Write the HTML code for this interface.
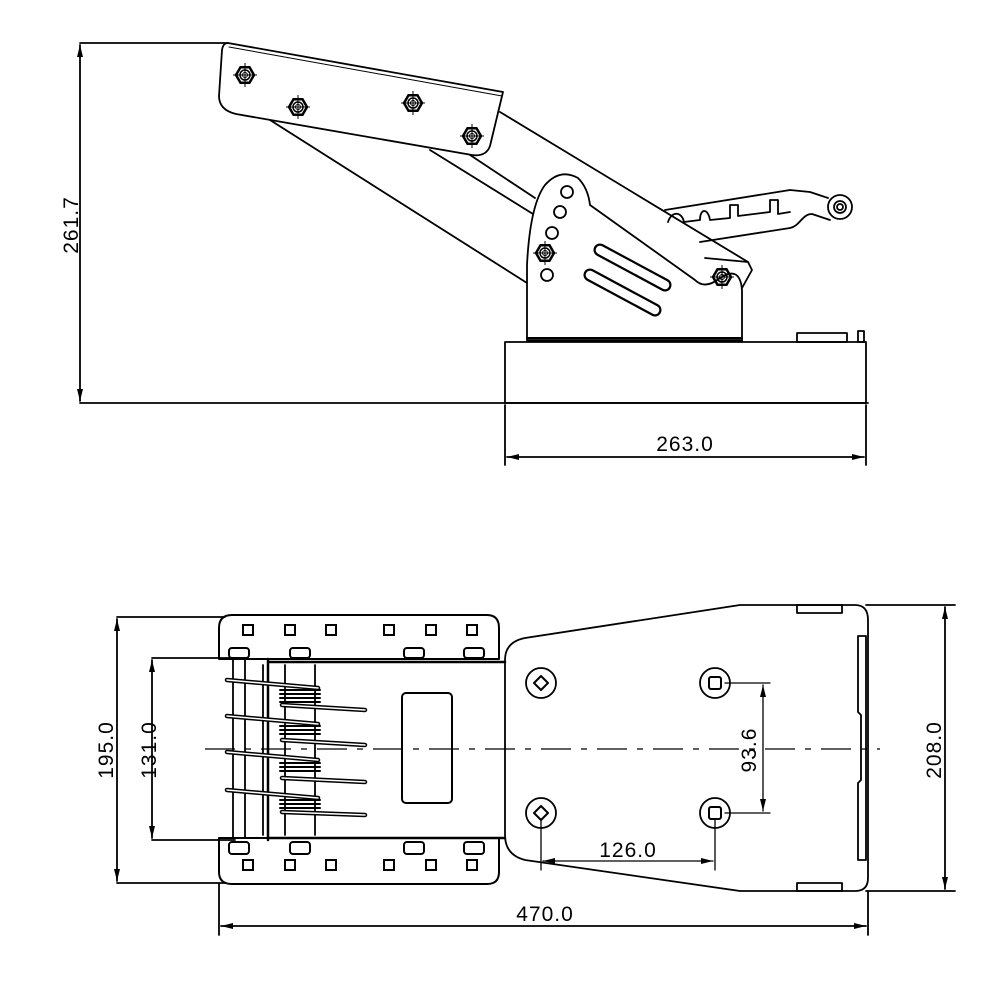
<!DOCTYPE html>
<html><head><meta charset="utf-8"><style>
html,body{margin:0;padding:0;background:#fff}
svg{display:block}
text{font-family:"Liberation Sans",sans-serif;font-size:21px;fill:#000;letter-spacing:1px}
</style></head><body>
<svg width="1000" height="1000" viewBox="0 0 1000 1000" xmlns="http://www.w3.org/2000/svg">
<defs>
<marker id="a" viewBox="0 0 12 6" refX="12" refY="3" markerWidth="12" markerHeight="6" orient="auto-start-reverse" markerUnits="userSpaceOnUse"><path d="M0,0 L12,3 L0,6 z" fill="#000"/></marker>
<g id="nut"><polygon points="9,0 4.5,7.8 -4.5,7.8 -9,0 -4.5,-7.8 4.5,-7.8" fill="none" stroke="#000" stroke-width="2.5"/><circle r="5" fill="none" stroke="#000" stroke-width="1.5"/><circle r="2.5" fill="none" stroke="#000" stroke-width="1"/><path d="M0,-12V12M-12,0H12" stroke="#000" stroke-width="1"/></g>
</defs>
<g fill="none" stroke="#000" stroke-width="1.8" stroke-linejoin="round" stroke-linecap="round">
<path d="M80,43H228M80,403H868"/>
<path d="M80,45V401" marker-start="url(#a)" marker-end="url(#a)"/>
<path d="M505,405V465M866,405V465"/>
<path d="M507,457H864" marker-start="url(#a)" marker-end="url(#a)"/>
<rect x="505" y="342" width="361" height="61"/>
<rect x="797" y="333" width="50" height="9"/>
<rect x="858" y="331" width="6" height="11"/>
<path d="M270,120 L527,283"/>
<path d="M500,112 L748,262"/>
<path d="M430,150 L533,214 M455,145 L535,198"/>
<path d="M665,210 L790,190 L810,192 L828,198 M668,222 C672,210 682,212 684,222 L700,220 C700,208 708,208 710,220 L730,218 L730,205 L738,205 L738,216 L770,212 L770,200 L778,200 L778,214 L790,212"/>
<path d="M700,242 L790,228 C800,226 802,214 812,214 L830,220"/>
<circle cx="840" cy="207" r="12"/><circle cx="840" cy="207" r="6"/><circle cx="840" cy="207" r="3"/>
<path d="M228,43 L503,92 L490,146 Q486,157 472,155 L236,114 Q219,110 219,96 L222,50 Q223,43 228,43 Z" fill="#fff"/>
<path d="M229,47 L502,96" stroke-width="1"/>
<path d="M527,340 L527,265 Q530,205 545,185 Q560,168 578,178 Q588,188 590,205 L695,280 Q705,290 720,278 Q740,265 742,290 L742,340 Z" fill="#fff"/>
<path d="M705,258 L748,262 L752,270 L742,288"/>
<path d="M527,338 H742 M527,341 H742" stroke-width="2"/>
<circle cx="567" cy="192" r="6"/><circle cx="560" cy="212" r="6"/><circle cx="552" cy="233" r="6"/><circle cx="547" cy="275" r="6"/>
<path d="M600,250 L665,285" stroke-width="13"/><path d="M600,250 L665,285" stroke="#fff" stroke-width="8.5"/>
<path d="M590,275 L655,310" stroke-width="13"/><path d="M590,275 L655,310" stroke="#fff" stroke-width="8.5"/>
</g>
<use href="#nut" x="245" y="75"/><use href="#nut" x="298" y="107"/><use href="#nut" x="413" y="103"/><use href="#nut" x="472" y="136"/>
<use href="#nut" x="545" y="253"/><use href="#nut" x="722" y="277"/>
<text transform="translate(78,225) rotate(-90)" text-anchor="middle">261.7</text>
<text x="685" y="451" text-anchor="middle">263.0</text>

<g fill="none" stroke="#000" stroke-width="1.8" stroke-linejoin="round" stroke-linecap="round">
<path d="M117,617H225M117,883H225M152,658H235M152,840H235"/>
<path d="M117,619V881" marker-start="url(#a)" marker-end="url(#a)"/>
<path d="M152,660V838" marker-start="url(#a)" marker-end="url(#a)"/>
<path d="M866,605H955M866,891H955"/>
<path d="M945,607V889" marker-start="url(#a)" marker-end="url(#a)"/>
<path d="M219,884V935M868,892V935"/>
<path d="M221,926H866" marker-start="url(#a)" marker-end="url(#a)"/>
<path d="M525,638 L740,605 L855,605 Q868,605 868,620 L868,878 Q868,891 855,891 L740,891 L525,860 Q505,855 505,835 L505,660 Q505,642 525,638 Z" fill="#fff"/>
<path d="M725,683H770M725,813H770" stroke-width="1.3"/>
<path d="M763,685V811" stroke-width="1.3" marker-start="url(#a)" marker-end="url(#a)"/>
<path d="M541,820V870M715,820V870" stroke-width="1.3"/>
<path d="M543,861H713" stroke-width="1.3" marker-start="url(#a)" marker-end="url(#a)"/>
<rect x="797" y="605" width="45" height="8"/><rect x="797" y="883" width="45" height="8"/>
<path d="M858,636 H866 V860 H858 V783 L861,780 V715 L858,712 Z"/>
<circle cx="541" cy="683" r="15"/><circle cx="541" cy="813" r="15"/><circle cx="715" cy="683" r="15"/><circle cx="715" cy="813" r="15"/>
<path d="M541,676 L548,683 L541,690 L534,683 Z M541,806 L548,813 L541,820 L534,813 Z" stroke-width="2"/>
<rect x="709" y="677" width="12" height="12" rx="2" stroke-width="2"/><rect x="709" y="807" width="12" height="12" rx="2" stroke-width="2"/>
<path d="M232,615 H487 Q499,615 499,628 V659 H219 V628 Q219,615 232,615 Z" stroke-width="2"/>
<path d="M219,838 H499 V872 Q499,884 487,884 H232 Q219,884 219,872 Z" stroke-width="2"/>
<path d="M268,662 H505 M268,838 H505 M268,659 V840" stroke-width="2.5"/>
<path d="M233,659 V838 M245,659 V838 M263,665 V835 M285,665 V835 M315,665 V835"/>
<rect x="402" y="693" width="50" height="110" rx="4" stroke-width="2"/>
<g stroke-width="4.5"><path d="M227,680 L318,688 M227,716 L318,724 M227,752 L318,760 M227,790 L318,798"/></g>
<g stroke="#fff" stroke-width="1.5"><path d="M227,680 L318,688 M227,716 L318,724 M227,752 L318,760 M227,790 L318,798"/></g>
<g stroke-width="4.5"><path d="M282,705 L365,710 M282,740 L365,745 M282,778 L365,782 M282,812 L365,815"/></g>
<g stroke="#fff" stroke-width="1.5"><path d="M282,705 L365,710 M282,740 L365,745 M282,778 L365,782 M282,812 L365,815"/></g>
<path d="M280,690 H320 M280,694 H320 M280,698 H320 M280,702 H320 M280,726 H320 M280,730 H320 M280,734 H320 M280,763 H320 M280,767 H320 M280,771 H320 M280,800 H320 M280,804 H320 M280,808 H320" stroke-width="2"/>
</g>
<g fill="none" stroke="#000" stroke-width="2">
<rect x="243" y="625" width="10" height="10"/><rect x="285" y="625" width="10" height="10"/><rect x="326" y="625" width="10" height="10"/><rect x="384" y="625" width="10" height="10"/><rect x="426" y="625" width="10" height="10"/><rect x="467" y="625" width="10" height="10"/>
<rect x="243" y="860" width="10" height="10"/><rect x="285" y="860" width="10" height="10"/><rect x="326" y="860" width="10" height="10"/><rect x="384" y="860" width="10" height="10"/><rect x="426" y="860" width="10" height="10"/><rect x="467" y="860" width="10" height="10"/>
<rect x="229" y="648" width="20" height="10" rx="3"/><rect x="290" y="648" width="20" height="10" rx="3"/><rect x="404" y="648" width="20" height="10" rx="3"/><rect x="464" y="648" width="20" height="10" rx="3"/>
<rect x="229" y="842" width="20" height="12" rx="3"/><rect x="290" y="842" width="20" height="12" rx="3"/><rect x="404" y="842" width="20" height="12" rx="3"/><rect x="464" y="842" width="20" height="12" rx="3"/>
</g>
<path d="M205,749 H880" stroke="#000" stroke-width="1.2" stroke-dasharray="30,10,6,10"/>
<text transform="translate(113,750) rotate(-90)" text-anchor="middle">195.0</text>
<text transform="translate(156,750) rotate(-90)" text-anchor="middle">131.0</text>
<text transform="translate(756,750) rotate(-90)" text-anchor="middle">93.6</text>
<text transform="translate(941,750) rotate(-90)" text-anchor="middle">208.0</text>
<text x="628" y="857" text-anchor="middle">126.0</text>
<text x="545" y="921" text-anchor="middle">470.0</text>
</svg>
</body></html>
